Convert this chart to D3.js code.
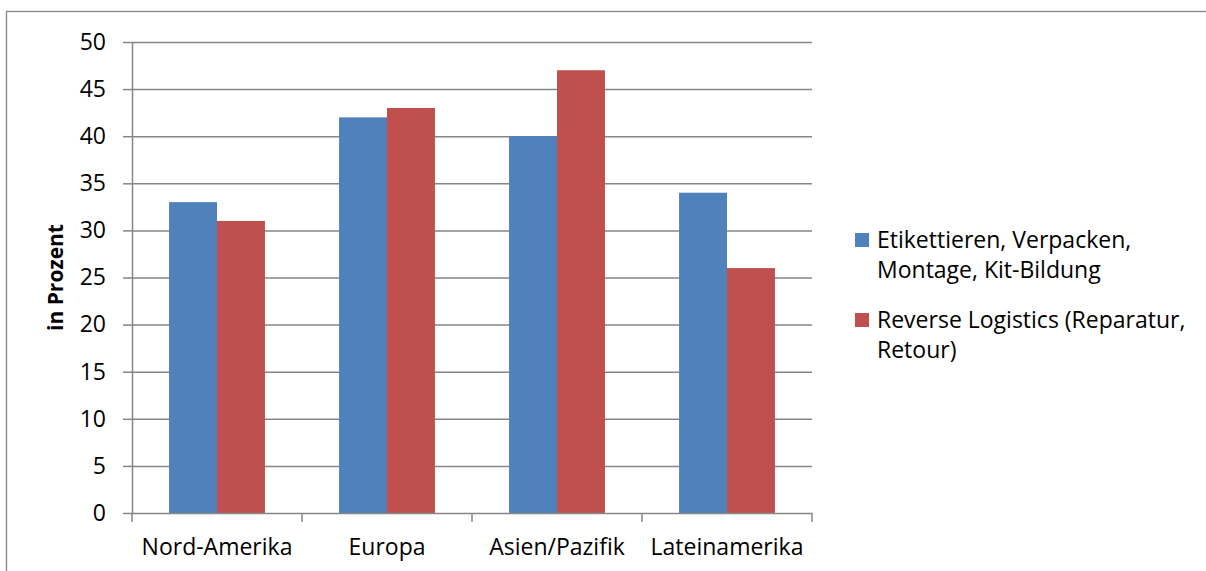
<!DOCTYPE html>
<html><head><meta charset="utf-8">
<script src="https://cdn.jsdelivr.net/npm/d3@7"></script>
<style>body{margin:0;background:#fff}svg{display:block}</style>
</head><body>
<script>
const categories = ["Nord-Amerika", "Europa", "Asien/Pazifik", "Lateinamerika"];
const seriesNames = ["Etikettieren, Verpacken, Montage, Kit-Bildung", "Reverse Logistics (Reparatur, Retour)"];
const legendLines = [["Etikettieren, Verpacken,", "Montage, Kit-Bildung"], ["Reverse Logistics (Reparatur,", "Retour)"]];
const valuesEtikett = [33, 42, 40, 34];
const valuesReverse = [31, 43, 47, 26];
const yTicks = [0, 5, 10, 15, 20, 25, 30, 35, 40, 45, 50];
const colors = ["#4F81BD", "#C0504D"];

(function () {
const W = 1206, H = 571;
const font = "'Open Sans', 'Noto Sans', sans-serif";
const fs = 23;
const svg = d3.select("body").append("svg").attr("width", W).attr("height", H);

svg.append("rect").attr("x", 6.5).attr("y", 11.5).attr("width", 1205).attr("height", 570)
  .attr("fill", "none").attr("stroke", "#868686").attr("stroke-width", 1.3);

const pLeft = 132, pRight = 812, pTop = 42, pBottom = 513;
const y = d3.scaleLinear().domain([0, 50]).range([pBottom, pTop]);
const x0 = d3.scaleBand().domain(categories).range([pLeft, pRight]).padding(0);
const x1 = d3.scaleBand().domain([0, 1]).range([0, x0.bandwidth()]).paddingInner(0).paddingOuter(0.773);

const yAxis = d3.axisLeft(y).tickValues(yTicks).tickSize(9).tickPadding(17).tickSizeOuter(0);
const gy = svg.append("g").attr("transform", `translate(${pLeft},0)`).call(yAxis);
gy.select(".domain").attr("stroke", "#868686").attr("stroke-width", 1.5);
gy.selectAll(".tick line").attr("stroke", "#868686").attr("stroke-width", 1.5);
gy.selectAll(".tick text").attr("font-family", font).attr("font-size", fs).attr("fill", "#000");
gy.selectAll(".tick").filter(d => d > 0).append("line")
  .attr("x1", 0).attr("x2", pRight - pLeft).attr("stroke", "#868686").attr("stroke-width", 1.5);

const data = categories.map((c, i) => ({ c, v: [valuesEtikett[i], valuesReverse[i]] }));
const g = svg.append("g");
data.forEach(d => {
  d.v.forEach((v, s) => {
    g.append("rect")
      .attr("x", x0(d.c) + x1(s)).attr("width", x1.bandwidth())
      .attr("y", y(v)).attr("height", y(0) - y(v))
      .attr("fill", colors[s]);
  });
});

const xAxis = d3.axisBottom(x0).tickSize(0).tickPadding(26);
const gx = svg.append("g").attr("transform", `translate(0,${pBottom})`).call(xAxis);
gx.select(".domain").attr("stroke", "#868686").attr("stroke-width", 1.5);
gx.selectAll(".tick text").attr("font-family", font).attr("font-size", fs).attr("fill", "#000");
const boundaries = [pLeft].concat(categories.map(c => x0(c) + x0.bandwidth()));
gx.selectAll(".bt").data(boundaries).join("line").attr("class", "bt")
  .attr("x1", d => d).attr("x2", d => d).attr("y1", 0).attr("y2", 9)
  .attr("stroke", "#868686").attr("stroke-width", 1.5);

svg.append("text").attr("transform", `translate(63,${(pTop + pBottom) / 2}) rotate(-90)`)
  .attr("text-anchor", "middle").attr("font-family", font).attr("font-weight", "bold")
  .attr("font-size", 21).text("in Prozent");

const lg = svg.append("g");
const legY = [233, 313];
legendLines.forEach((lines, i) => {
  lg.append("rect").attr("x", 855).attr("y", legY[i]).attr("width", 14).attr("height", 14).attr("fill", colors[i]);
  lines.forEach((t, j) => {
    lg.append("text").attr("x", 877).attr("y", legY[i] + 15 + j * 30)
      .attr("font-family", font).attr("font-size", fs).attr("fill", "#000").text(t);
  });
});
})();
</script>
</body></html>
